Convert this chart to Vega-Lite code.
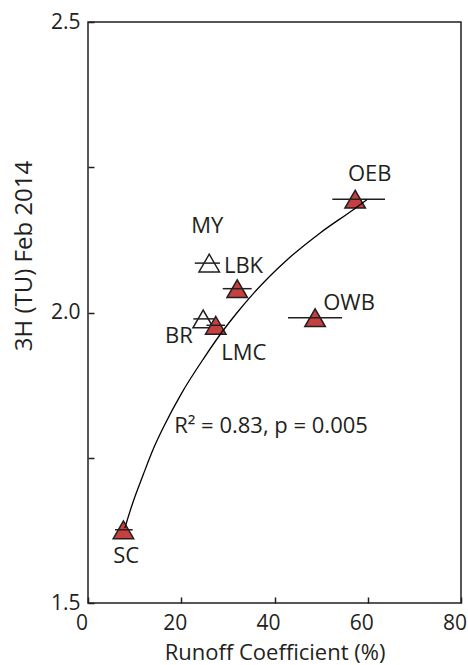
{
  "$schema": "https://vega.github.io/schema/vega-lite/v6.json",
  "width": 373,
  "height": 581,
  "autosize": {"type": "none"},
  "padding": {"left": 88, "top": 22, "right": 7, "bottom": 62},
  "background": "white",
  "config": {
    "view": {"stroke": "#231f20", "strokeWidth": 1.5},
    "font": "Open Sans",
    "axis": {
      "grid": false,
      "domain": false,
      "labelFont": "Open Sans",
      "titleFont": "Open Sans",
      "labelFontSize": 21,
      "titleFontSize": 22,
      "titleFontWeight": "normal",
      "labelColor": "#231f20",
      "titleColor": "#231f20",
      "tickColor": "#231f20",
      "tickWidth": 1.5,
      "tickSize": 6,
      "offset": -6,
      "labelFlush": false,
      "labelOverlap": false
    }
  },
  "datasets": {
    "sites": [
      {"site": "MY", "x": 26.0, "y": 2.085, "xlo": 22.9, "xhi": 28.3, "kind": "open"},
      {"site": "BR", "x": 24.7, "y": 1.989, "xlo": 22.6, "xhi": 27.0, "kind": "open"},
      {"site": "OEB", "x": 57.3, "y": 2.195, "xlo": 52.4, "xhi": 63.7, "kind": "filled"},
      {"site": "OWB", "x": 48.7, "y": 1.991, "xlo": 42.9, "xhi": 54.5, "kind": "filled"},
      {"site": "LBK", "x": 32.0, "y": 2.041, "xlo": 28.9, "xhi": 35.1, "kind": "filled"},
      {"site": "LMC", "x": 27.4, "y": 1.978, "xlo": 25.4, "xhi": 29.4, "kind": "filled"},
      {"site": "SC", "x": 7.6, "y": 1.626, "xlo": 5.8, "xhi": 9.6, "kind": "filled"}
    ],
    "fit": [
      {"x": 7.9, "y": 1.629},
      {"x": 9.5, "y": 1.670},
      {"x": 11.9, "y": 1.722},
      {"x": 14.0, "y": 1.765},
      {"x": 16.4, "y": 1.806},
      {"x": 20.0, "y": 1.860},
      {"x": 24.9, "y": 1.922},
      {"x": 28.7, "y": 1.966},
      {"x": 32.0, "y": 2.000},
      {"x": 35.5, "y": 2.033},
      {"x": 42.6, "y": 2.090},
      {"x": 49.8, "y": 2.137},
      {"x": 56.9, "y": 2.177},
      {"x": 59.8, "y": 2.194}
    ]
  },
  "layer": [
    {
      "data": {"name": "sites"},
      "mark": {"type": "point", "shape": "triangle-up", "size": 420, "filled": true, "stroke": "#231f20", "strokeWidth": 1.5, "opacity": 1},
      "encoding": {
        "x": {
          "field": "x",
          "type": "quantitative",
          "scale": {"domain": [0, 80], "nice": false, "zero": false},
          "axis": {
            "values": [0, 20, 40, 60, 80],
            "title": "Runoff Coefficient (%)",
            "labelPadding": 9,
            "labelOffset": -6.5,
            "titleY": 62,
            "titleBaseline": "alphabetic",
            "encode": {"labels": {"update": {"dx": {"signal": "datum.value == 0 ? 5.5 : 0"}, "dy": {"signal": "datum.value == 0 ? -4 : 0"}}}}
          }
        },
        "y": {
          "field": "y",
          "type": "quantitative",
          "scale": {"domain": [1.5, 2.5], "nice": false, "zero": false},
          "axis": {
            "values": [1.5, 1.75, 2, 2.25, 2.5],
            "labelExpr": "(datum.value == 1.75 || datum.value == 2.25) ? '' : format(datum.value, '.1f')",
            "title": "3H (TU) Feb 2014",
            "titleFontSize": 24,
            "labelPadding": 8,
            "titleAngle": -90,
            "titleX": -63,
            "titleY": 233.5,
            "titleAlign": "center",
            "titleBaseline": "alphabetic"
          }
        },
        "fill": {"field": "kind", "type": "nominal", "scale": {"domain": ["filled", "open"], "range": ["#c5403f", "#ffffff"]}, "legend": null}
      }
    },
    {
      "data": {"name": "sites"},
      "mark": {"type": "rule", "color": "#231f20", "strokeWidth": 1.5},
      "encoding": {
        "x": {"field": "xlo", "type": "quantitative"},
        "x2": {"field": "xhi"},
        "y": {"field": "y", "type": "quantitative"}
      }
    },
    {
      "data": {"name": "fit"},
      "mark": {"type": "line", "color": "#000000", "strokeWidth": 1.3, "interpolate": "monotone"},
      "encoding": {
        "x": {"field": "x", "type": "quantitative"},
        "y": {"field": "y", "type": "quantitative"}
      }
    },
    {
      "data": {"name": "sites"},
      "transform": [{"filter": "datum.site == 'OEB'"}],
      "mark": {"type": "text", "fontSize": 22, "color": "#231f20", "align": "center", "baseline": "alphabetic", "dx": 14.5, "dy": -18},
      "encoding": {
        "x": {"field": "x", "type": "quantitative"},
        "y": {"field": "y", "type": "quantitative"},
        "text": {"field": "site"}
      }
    },
    {
      "data": {"name": "sites"},
      "transform": [{"filter": "datum.site == 'OWB'"}],
      "mark": {"type": "text", "fontSize": 22, "color": "#231f20", "align": "center", "baseline": "alphabetic", "dx": 34, "dy": -7.7},
      "encoding": {
        "x": {"field": "x", "type": "quantitative"},
        "y": {"field": "y", "type": "quantitative"},
        "text": {"field": "site"}
      }
    },
    {
      "data": {"name": "sites"},
      "transform": [{"filter": "datum.site == 'LBK'"}],
      "mark": {"type": "text", "fontSize": 22, "color": "#231f20", "align": "center", "baseline": "alphabetic", "dx": 6.3, "dy": -15.4},
      "encoding": {
        "x": {"field": "x", "type": "quantitative"},
        "y": {"field": "y", "type": "quantitative"},
        "text": {"field": "site"}
      }
    },
    {
      "data": {"name": "sites"},
      "transform": [{"filter": "datum.site == 'MY'"}],
      "mark": {"type": "text", "fontSize": 22, "color": "#231f20", "align": "center", "baseline": "alphabetic", "dx": -2, "dy": -30},
      "encoding": {
        "x": {"field": "x", "type": "quantitative"},
        "y": {"field": "y", "type": "quantitative"},
        "text": {"field": "site"}
      }
    },
    {
      "data": {"name": "sites"},
      "transform": [{"filter": "datum.site == 'BR'"}],
      "mark": {"type": "text", "fontSize": 22, "color": "#231f20", "align": "center", "baseline": "alphabetic", "dx": -24.3, "dy": 24.3},
      "encoding": {
        "x": {"field": "x", "type": "quantitative"},
        "y": {"field": "y", "type": "quantitative"},
        "text": {"field": "site"}
      }
    },
    {
      "data": {"name": "sites"},
      "transform": [{"filter": "datum.site == 'LMC'"}],
      "mark": {"type": "text", "fontSize": 22, "color": "#231f20", "align": "center", "baseline": "alphabetic", "dx": 28, "dy": 35},
      "encoding": {
        "x": {"field": "x", "type": "quantitative"},
        "y": {"field": "y", "type": "quantitative"},
        "text": {"field": "site"}
      }
    },
    {
      "data": {"name": "sites"},
      "transform": [{"filter": "datum.site == 'SC'"}],
      "mark": {"type": "text", "fontSize": 22, "color": "#231f20", "align": "center", "baseline": "alphabetic", "dx": 2.7, "dy": 33.3},
      "encoding": {
        "x": {"field": "x", "type": "quantitative"},
        "y": {"field": "y", "type": "quantitative"},
        "text": {"field": "site"}
      }
    },
    {
      "data": {"values": [{"label": "R² = 0.83, p = 0.005"}]},
      "mark": {"type": "text", "fontSize": 22, "color": "#231f20", "align": "center", "baseline": "alphabetic"},
      "encoding": {
        "x": {"datum": 39.25, "type": "quantitative"},
        "y": {"datum": 1.792, "type": "quantitative"},
        "text": {"field": "label"}
      }
    }
  ]
}
